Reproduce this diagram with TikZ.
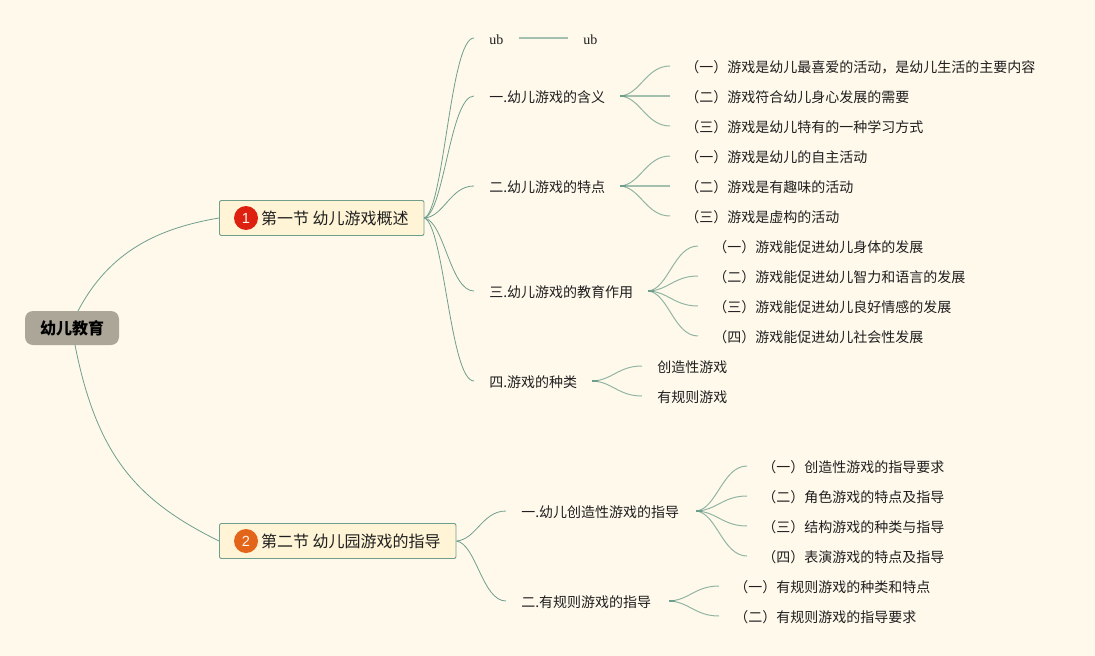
\documentclass[tikz,border=0pt]{standalone}
\usepackage{fontspec}
\setmainfont{Noto Sans CJK SC}
\newfontfamily\latinserif{Liberation Serif}
\newfontfamily\badgefont{Liberation Sans}
\usetikzlibrary{calc}
\definecolor{paper}{HTML}{FFF9EC}
\definecolor{linkcol}{HTML}{6F9F8C}
\definecolor{softlink}{HTML}{92B5A3}
\definecolor{paleline}{HTML}{A3BFAE}
\definecolor{boxfill}{HTML}{FFF5D6}
\definecolor{rootfill}{HTML}{ABA698}
\definecolor{badgered}{HTML}{DD2010}
\definecolor{badgeorange}{HTML}{E3651A}
\tikzset{
  link/.style={draw=linkcol,line width=0.6pt},
  softlinkline/.style={draw=softlink,line width=0.75pt},
  paleconn/.style={draw=paleline,line width=0.9pt},
  stub/.style={draw=linkcol,line width=1pt},
  leaf/.style={anchor=west,inner xsep=11.25pt,inner ysep=0pt,text height=11pt,text depth=1.5pt,text=black!88,font=\fontsize{10.5}{12}\selectfont},
  ubleaf/.style={leaf,font=\fontsize{10.5}{12}\selectfont\latinserif},
  secbox/.style={anchor=west,draw=linkcol,line width=0.7pt,fill=boxfill,rounded corners=1.5pt,inner sep=0pt,minimum height=26.25pt,align=left,font=\fontsize{12}{14}\selectfont,text=black!88},
  badge/.style={circle,inner sep=0pt,minimum size=18pt,text=white!92!orange,font=\fontsize{11}{12}\selectfont\badgefont},
  rootbox/.style={draw=none,fill=rootfill,rounded corners=6pt,minimum width=70.5pt,minimum height=25.5pt,inner sep=0pt,font=\fontsize{12}{14}\selectfont\bfseries},
}
\newcommand{\conn}[3][link]{\draw[#1] let \p1=(#2), \p2=(#3) in (\p1) .. controls ({\x1+0.4*(\x2-\x1)},{\y1+0.05*(\y2-\y1)}) and ({\x1+0.52*(\x2-\x1)},\y2) .. (\p2);}
\begin{document}
\begin{tikzpicture}[x=0.75pt,y=-0.75pt]
\useasboundingbox (0,0) rectangle (1095,656);
\fill[paper] (0,0) rectangle (1095,656);
% nodes
\node[rootbox] (root) at (72,328) {幼儿教育};
\coordinate (rootA) at (78,311);
\coordinate (rootB) at (75,345);
\node[secbox,text width=153.4pt] (s1) at (219,218) {\hspace*{31.2pt}第一节\hspace{2.6pt}幼儿游戏概述};
\node[secbox,text width=177.4pt] (s2) at (219,541) {\hspace*{31.2pt}第二节\hspace{2.6pt}幼儿园游戏的指导};
\node[badge,fill=badgered] (b1) at (246,218) {1};
\node[badge,fill=badgeorange] (b2) at (246,541) {2};

\node[ubleaf] (ub) at (474,38) {ub};
\node[ubleaf] (ubb) at (568,38) {ub};
\node[leaf] (a1) at (474,96) {一.幼儿游戏的含义};
\node[leaf] (a2) at (474,186) {二.幼儿游戏的特点};
\node[leaf] (a3) at (474,291) {三.幼儿游戏的教育作用};
\node[leaf] (a4) at (474,381) {四.游戏的种类};

\node[leaf] (a11) at (670,66) {（一）游戏是幼儿最喜爱的活动，是幼儿生活的主要内容};
\node[leaf] (a12) at (670,96) {（二）游戏符合幼儿身心发展的需要};
\node[leaf] (a13) at (670,126) {（三）游戏是幼儿特有的一种学习方式};
\node[leaf] (a21) at (670,156) {（一）游戏是幼儿的自主活动};
\node[leaf] (a22) at (670,186) {（二）游戏是有趣味的活动};
\node[leaf] (a23) at (670,216) {（三）游戏是虚构的活动};
\node[leaf] (a31) at (698,246) {（一）游戏能促进幼儿身体的发展};
\node[leaf] (a32) at (698,276) {（二）游戏能促进幼儿智力和语言的发展};
\node[leaf] (a33) at (698,306) {（三）游戏能促进幼儿良好情感的发展};
\node[leaf] (a34) at (698,336) {（四）游戏能促进幼儿社会性发展};
\node[leaf] (a41) at (642,366) {创造性游戏};
\node[leaf] (a42) at (642,396) {有规则游戏};

\node[leaf] (c1) at (506,511) {一.幼儿创造性游戏的指导};
\node[leaf] (c2) at (506,601) {二.有规则游戏的指导};
\node[leaf] (c11) at (747,466) {（一）创造性游戏的指导要求};
\node[leaf] (c12) at (747,496) {（二）角色游戏的特点及指导};
\node[leaf] (c13) at (747,526) {（三）结构游戏的种类与指导};
\node[leaf] (c14) at (747,556) {（四）表演游戏的特点及指导};
\node[leaf] (c21) at (719,586) {（一）有规则游戏的种类和特点};
\node[leaf] (c22) at (719,616) {（二）有规则游戏的指导要求};

% connectors
\draw[link] (rootA) .. controls (110,250) and (160,228) .. (s1.west);
\draw[link] (rootB) .. controls (97,457) and (138,501) .. (s2.west);
\foreach \t in {ub,a1,a2,a3,a4}{\conn{s1.east}{\t.west}}
\draw[paleconn] (ub.east) -- (ubb.west);
\foreach \t in {a11,a12,a13}{\conn[softlinkline]{a1.east}{\t.west}}
\foreach \t in {a21,a22,a23}{\conn[softlinkline]{a2.east}{\t.west}}
\foreach \t in {a31,a32,a33,a34}{\conn[softlinkline]{a3.east}{\t.west}}
\foreach \t in {a41,a42}{\conn[softlinkline]{a4.east}{\t.west}}
\foreach \t in {c1,c2}{\conn{s2.east}{\t.west}}
\foreach \t in {c11,c12,c13,c14}{\conn[softlinkline]{[xshift=1.5pt]c1.east}{\t.west}}
\foreach \t in {c21,c22}{\conn[softlinkline]{[xshift=2pt]c2.east}{\t.west}}
\draw[paleconn] (a1.east) -- (a12.west);
\draw[paleconn] (a2.east) -- (a22.west);
\foreach \s in {a1,a2,a3,a4}{\draw[stub] (\s.east) -- ++(6,0);}
\draw[stub] ([xshift=1.5pt]c1.east) -- ++(6,0);
\draw[stub] ([xshift=2pt]c2.east) -- ++(6,0);
\end{tikzpicture}
\end{document}
